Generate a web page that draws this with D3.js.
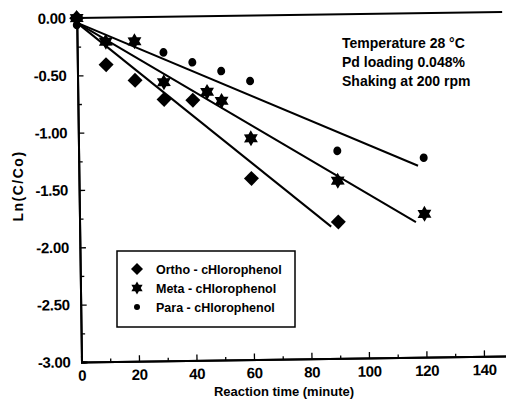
<!DOCTYPE html>
<html>
<head>
<meta charset="utf-8">
<script src="https://cdn.jsdelivr.net/npm/d3@7"></script>
<style>
  html, body { margin: 0; padding: 0; background: #fff; }
  svg { display: block; }
  text { font-family: "Liberation Sans", Arial, sans-serif; fill: #000; }
</style>
</head>
<body>
<div id="chart"></div>
<script>
// ---- data ----
const orthoTime  = [0, 10, 20, 30, 40, 60, 90];
const orthoValue = [0, -0.41, -0.55, -0.72, -0.73, -1.42, -1.81];

const metaTime   = [0, 10, 20, 30, 45, 50, 60, 90, 120];
const metaValue  = [0, -0.21, -0.21, -0.57, -0.66, -0.74, -1.07, -1.45, -1.75];

const paraTime   = [0, 30, 40, 50, 60, 90, 120];
const paraValue  = [-0.06, -0.31, -0.40, -0.48, -0.57, -1.19, -1.26];

// fitted regression lines: [time, value] end points
const orthoFit = [[0, -0.04], [87.5, -1.85]];
const metaFit  = [[0, -0.04], [117, -1.82]];
const paraFit  = [[0, -0.04], [118, -1.33]];

const xTicks = [0, 20, 40, 60, 80, 100, 120, 140];
const xMinorTicks = [10, 30, 50, 70, 90, 110, 130];
const yTicks = [0, -0.5, -1.0, -1.5, -2.0, -2.5, -3.0];
const yMinorTicks = [-0.25, -0.75, -1.25, -1.75, -2.25, -2.75];

const legendLabels = ["Ortho - cHlorophenol", "Meta - cHlorophenol", "Para - cHlorophenol"];
const noteLines = ["Temperature 28 \u00B0C", "Pd loading 0.048%", "Shaking at 200 rpm"];
const xTitle = "Reaction time (minute)";
const yTitle = "Ln(C/Co)";

// ---- layout ----
const W = 506, H = 400;
const x = d3.scaleLinear().domain([0, 148]).range([81.5, 507]);
const y = d3.scaleLinear().domain([-3, 0]).range([362, 18]);

const svg = d3.select("#chart").append("svg").attr("width", W).attr("height", H);

// slight tilt as in the scanned figure
const g = svg.append("g").attr("transform", "rotate(-0.8, 82, 362)");

// hexagram path generator
function hexagram(r) {
  const pts = [];
  const ri = r / Math.sqrt(3);
  for (let i = 0; i < 12; i++) {
    const a = -Math.PI / 2 + i * Math.PI / 6;
    const rr = i % 2 === 0 ? r : ri;
    pts.push([rr * Math.cos(a), rr * Math.sin(a)]);
  }
  return "M" + pts.map(p => p.join(",")).join("L") + "Z";
}
function diamond(r) {
  return `M0,${-r}L${r},0L0,${r}L${-r},0Z`;
}

const fmt2 = d => d3.format(".2f")(d).replace("\u2212", "-");

// axes
const xAxis = d3.axisBottom(x).tickValues(xTicks).tickSize(-6).tickPadding(8).tickFormat(d3.format("d"));
const xAxisMinor = d3.axisBottom(x).tickValues(xMinorTicks).tickSize(-3).tickFormat("");
const yAxis = d3.axisLeft(y).tickValues(yTicks).tickSize(-6).tickPadding(11).tickFormat(fmt2);
const yAxisMinor = d3.axisLeft(y).tickValues(yMinorTicks).tickSize(-4).tickFormat("");

function styleAxis(sel) {
  sel.select(".domain").attr("stroke", "#000").attr("stroke-width", 2);
  sel.selectAll(".tick line").attr("stroke", "#000").attr("stroke-width", 1.3);
  sel.selectAll(".tick text").style("font-size", "15px").style("font-weight", "bold")
     .style("letter-spacing", "-0.3px");
}

g.append("g").attr("transform", `translate(0,${y(-3)})`).call(xAxisMinor).call(styleAxis);
g.append("g").attr("transform", `translate(0,${y(-3)})`).call(xAxis).call(styleAxis);
g.append("g").attr("transform", `translate(${x(0)},0)`).call(yAxisMinor).call(styleAxis);
g.append("g").attr("transform", `translate(${x(0)},0)`).call(yAxis).call(styleAxis);

// zero line across the top
g.append("line")
  .attr("x1", x(0)).attr("x2", x(148))
  .attr("y1", y(0)).attr("y2", y(0))
  .attr("stroke", "#000").attr("stroke-width", 2);

// fit lines
const line = d3.line().x(d => x(d[0])).y(d => y(d[1]));
[orthoFit, metaFit, paraFit].forEach(f => {
  g.append("path").attr("d", line(f)).attr("fill", "none")
    .attr("stroke", "#000").attr("stroke-width", 2);
});

// markers
g.selectAll(".para").data(paraTime.map((t, i) => [t, paraValue[i]])).enter()
  .append("ellipse").attr("cx", d => x(d[0])).attr("cy", d => y(d[1]))
  .attr("rx", 4).attr("ry", 4.3).attr("fill", "#000");

g.selectAll(".meta").data(metaTime.map((t, i) => [t, metaValue[i]])).enter()
  .append("path").attr("transform", d => `translate(${x(d[0])},${y(d[1])})`)
  .attr("d", hexagram(8)).attr("fill", "#000");

g.selectAll(".ortho").data(orthoTime.map((t, i) => [t, orthoValue[i]])).enter()
  .append("path").attr("transform", d => `translate(${x(d[0])},${y(d[1])})`)
  .attr("d", diamond(7.5)).attr("fill", "#000");

// legend
const lg = svg.append("g");
lg.append("rect").attr("x", 117).attr("y", 251).attr("width", 178).attr("height", 76)
  .attr("fill", "#fff").attr("stroke", "#000").attr("stroke-width", 1.5);
const legendShapes = [diamond(6), hexagram(6.5), null];
legendLabels.forEach((lab, i) => {
  const cy = 269 + i * 19;
  if (legendShapes[i]) {
    lg.append("path").attr("transform", `translate(137,${cy})`).attr("d", legendShapes[i]).attr("fill", "#000");
  } else {
    lg.append("circle").attr("cx", 137).attr("cy", cy).attr("r", 3).attr("fill", "#000");
  }
  lg.append("text").attr("x", 156).attr("y", cy + 4.5).text(lab)
    .style("font-size", "12.5px").style("font-weight", "bold");
});

// note text
noteLines.forEach((t, i) => {
  svg.append("text").attr("x", 342).attr("y", 48 + i * 19).text(t)
    .style("font-size", "14px").style("font-weight", "bold");
});

// axis titles
svg.append("text").attr("x", 284).attr("y", 396).attr("text-anchor", "middle").text(xTitle)
  .style("font-size", "13px").style("font-weight", "bold");
svg.append("text").attr("transform", "translate(23,186) rotate(-90)").attr("text-anchor", "middle").text(yTitle)
  .style("font-size", "14px").style("font-weight", "bold").style("letter-spacing", "1.5px");
</script>
</body>
</html>
